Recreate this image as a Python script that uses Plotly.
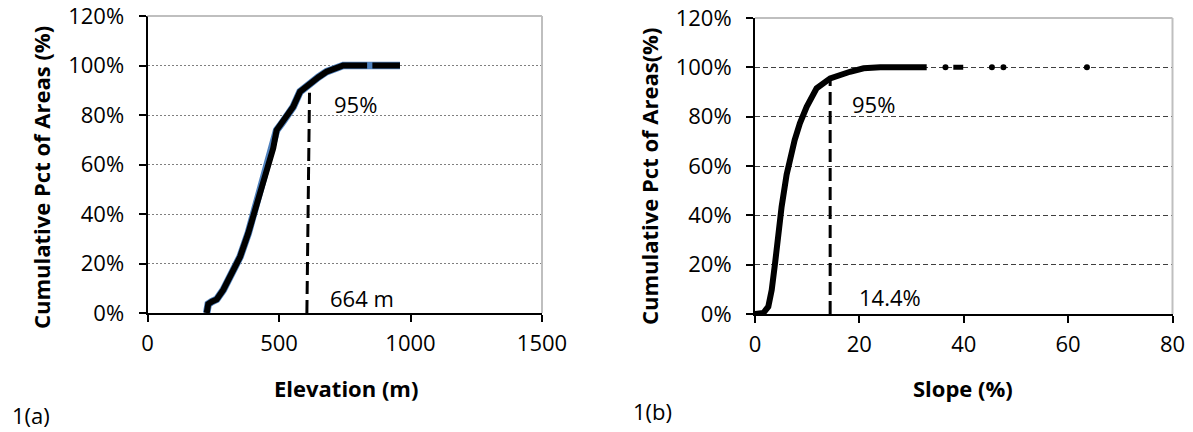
import plotly.graph_objects as go

# ---------------- data ----------------
# Panel 1(a): cumulative percentage of areas vs elevation (m)
elev_m = [225, 231, 245, 263, 288, 320, 352, 383, 415, 447, 478, 491, 510, 529,
          554, 580, 600, 618, 650, 681, 715, 744, 800, 835, 855, 900, 960]
elev_cum_pct = [0, 3.6, 4.6, 5.5, 9.3, 15.4, 22.7, 32.2, 44.3, 55.1, 66.5, 73.9, 76.5, 79.3,
                83.3, 89.4, 91.3, 92.8, 95.3, 97.5, 99.2, 100, 100, 100, 100, 100, 100]
elev_gap_after = 835          # short break in the black line on the 100% plateau
elev_p95_x = [606, 616]       # dashed 95% marker line
elev_p95_y = [0, 89]

# Panel 1(b): cumulative percentage of areas vs slope (%)
slope_pct = [0, 1.6, 2.55, 3.2, 3.84, 4.47, 5.1, 6.06, 7.0, 7.6, 8.6, 9.9, 11.8,
             14.4, 18.2, 20.8, 24, 28, 32.9]
slope_cum_pct = [0, 0.4, 3.0, 9.7, 20.5, 32.7, 43.5, 56.5, 66, 70.5, 77.3, 84, 91.5,
                 95.5, 98.2, 99.6, 100, 100, 100]
slope_tail_seg_x = [38.0, 39.9]
slope_tail_seg_y = [100, 100]
slope_tail_pts_x = [36.5, 45.4, 47.6, 63.6]
slope_tail_pts_y = [100, 100, 100, 100]
slope_p95_x = [14.4, 14.4]
slope_p95_y = [0, 96]

y_ticks = [0, 20, 40, 60, 80, 100, 120]
y_tick_labels = [f"{v}%" for v in y_ticks]
elev_ticks = [0, 500, 1000, 1500]
slope_ticks = [0, 20, 40, 60, 80]

W, H = 1193, 432
FONT = "Open Sans"
TICK_SIZE = 22


def px_x(p):
    return p / W


def px_y(p):
    return 1 - p / H


fig = go.Figure()

# ---- panel (a) ----
fig.add_trace(go.Scatter(x=elev_m, y=elev_cum_pct, mode="lines",
                         line=dict(color="#4F81BD", width=7.5), xaxis="x", yaxis="y",
                         hoverinfo="skip"))
bx, by = [], []
for xv, yv in zip(elev_m, elev_cum_pct):
    bx.append(xv)
    by.append(yv)
    if xv == elev_gap_after:
        bx.append(None)
        by.append(None)
fig.add_trace(go.Scatter(x=bx, y=by, mode="lines",
                         line=dict(color="black", width=6), xaxis="x", yaxis="y"))
fig.add_trace(go.Scatter(x=elev_p95_x, y=elev_p95_y, mode="lines",
                         line=dict(color="black", width=3, dash="13px,6px"),
                         xaxis="x", yaxis="y"))

# ---- panel (b) ----
fig.add_trace(go.Scatter(x=slope_pct, y=slope_cum_pct, mode="lines",
                         line=dict(color="black", width=6), xaxis="x2", yaxis="y2"))
fig.add_trace(go.Scatter(x=slope_tail_seg_x, y=slope_tail_seg_y, mode="lines",
                         line=dict(color="black", width=5), xaxis="x2", yaxis="y2"))
fig.add_trace(go.Scatter(x=slope_tail_pts_x, y=slope_tail_pts_y, mode="markers",
                         marker=dict(color="black", size=6, symbol="circle"),
                         xaxis="x2", yaxis="y2"))
fig.add_trace(go.Scatter(x=slope_p95_x, y=slope_p95_y, mode="lines",
                         line=dict(color="black", width=3, dash="13px,6px"),
                         xaxis="x2", yaxis="y2"))

axis_common = dict(showline=True, linecolor="black", linewidth=2, ticks="outside",
                   ticklen=7, tickwidth=2, tickcolor="black", zeroline=False,
                   automargin=False, ticklabeloverflow="allow",
                   tickfont=dict(family=FONT, size=TICK_SIZE, color="black"))

fig.update_layout(
    width=W, height=H, autosize=False,
    margin=dict(l=0, r=0, t=0, b=0, pad=0),
    paper_bgcolor="white", plot_bgcolor="white",
    showlegend=False,
    xaxis=dict(domain=[px_x(147.5), px_x(542)], range=[0, 1500], tickvals=elev_ticks,
               showgrid=False, anchor="y", ticklabelstandoff=3, **axis_common),
    yaxis=dict(domain=[px_y(313), px_y(16)], range=[0, 120], tickvals=y_ticks,
               ticktext=y_tick_labels, showgrid=True, gridcolor="#7F7F7F", gridwidth=1,
               griddash="2px,2px", anchor="x", ticklabelstandoff=10, **axis_common),
    xaxis2=dict(domain=[px_x(755), px_x(1172.5)], range=[0, 80], tickvals=slope_ticks,
                showgrid=False, anchor="y2", ticklabelstandoff=3, **axis_common),
    yaxis2=dict(domain=[px_y(314), px_y(18)], range=[0, 120], tickvals=y_ticks,
                ticktext=y_tick_labels, showgrid=True, gridcolor="#404040", gridwidth=1,
                griddash="5px,3px", anchor="x2", ticklabelstandoff=10, **axis_common),
)

# light grey top / right borders of both plot areas
for xr, yr in (("x domain", "y domain"), ("x2 domain", "y2 domain")):
    fig.add_shape(type="line", xref=xr, yref=yr, x0=0, x1=1, y0=1, y1=1,
                  line=dict(color="#BFBFBF", width=2))
    fig.add_shape(type="line", xref=xr, yref=yr, x0=1, x1=1, y0=0, y1=1,
                  line=dict(color="#BFBFBF", width=2))

txt = dict(family=FONT, size=TICK_SIZE, color="black")
bold = dict(family=FONT, size=22, color="black")
annotations = [
    dict(x=791, y=84.6, xref="x", yref="y", text="95%", font=txt),
    dict(x=816, y=5.9, xref="x", yref="y", text="664 m", font=txt),
    dict(x=22.7, y=85.3, xref="x2", yref="y2", text="95%", font=txt),
    dict(x=25.9, y=7.0, xref="x2", yref="y2", text="14.4%", font=txt),
    dict(x=px_x(41), y=px_y(178), xref="paper", yref="paper", textangle=-90,
         text="<b>Cumulative Pct of Areas (%)</b>", font=bold),
    dict(x=px_x(649), y=px_y(177), xref="paper", yref="paper", textangle=-90,
         text="<b>Cumulative Pct of Areas(%)</b>", font=bold),
    dict(x=px_x(346), y=px_y(388), xref="paper", yref="paper",
         text="<b>Elevation (m)</b>", font=bold),
    dict(x=px_x(963), y=px_y(388), xref="paper", yref="paper",
         text="<b>Slope (%)</b>", font=bold),
    dict(x=px_x(31), y=px_y(415), xref="paper", yref="paper", text="1(a)",
         font=dict(family=FONT, size=22, color="black")),
    dict(x=px_x(652), y=px_y(411), xref="paper", yref="paper", text="1(b)",
         font=dict(family=FONT, size=22, color="black")),
]
for a in annotations:
    a.update(showarrow=False, xanchor="center", yanchor="middle")
    fig.add_annotation(**a)

fig.write_html("out.html", config={"displayModeBar": False},
               post_script="document.body.style.margin='0';document.body.style.overflow='hidden';")
